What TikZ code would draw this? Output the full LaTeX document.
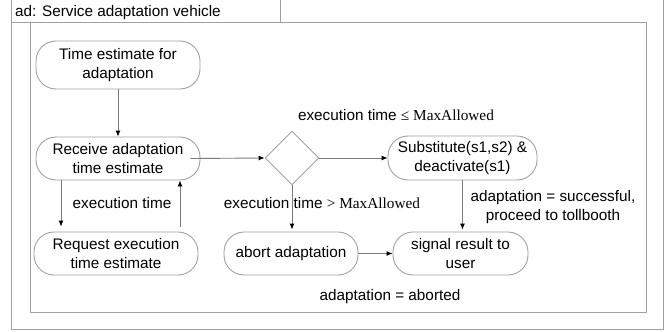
\documentclass[tikz,border=0pt]{standalone}
\usepackage{fontspec}
\setmainfont{Liberation Sans}
\newfontfamily\serifm{Liberation Serif}
\usetikzlibrary{arrows.meta,shapes.geometric}
\definecolor{frameg}{HTML}{A0A0A0}
\definecolor{lineg}{HTML}{7A7A7A}
\tikzset{
  act/.style={draw=frameg, line width=0.9pt, rounded corners=20pt, align=center,
    inner sep=0pt, font=\fontsize{15.3}{18.5}\selectfont},
  lbl/.style={align=center, inner sep=0pt, font=\fontsize{15.3}{18.5}\selectfont},
  conn/.style={draw=lineg, line width=0.9pt, -{Latex[length=6pt,width=5pt,color=black]}},
  frm/.style={draw=frameg, line width=0.9pt}
}
\begin{document}
\begin{tikzpicture}[x=1pt,y=-1pt]
\useasboundingbox (0,0) rectangle (670,332);
% frames
\draw[frm] (11,0) -- (11,329) -- (663,329) -- (663,0);
\draw[frm] (11,22) -- (280,22) -- (280,0);
\draw[frm] (30,22) rectangle (646,312);
\node[lbl, anchor=west] (title) at (15,12.5) {ad: Service adaptation vehicle};
% activities
\node[act, minimum width=164pt, minimum height=48pt] (t1) at (118,65) {Time estimate for\\adaptation};
\node[act, minimum width=164pt, minimum height=43pt] (recv) at (118,158.5) {Receive adaptation\\time estimate};
\node[act, minimum width=164pt, minimum height=43pt] (req) at (116,253.5) {Request execution\\time estimate};
\node[draw=frameg, line width=0.9pt, diamond, minimum width=54pt, minimum height=54pt, inner sep=0pt] (dia) at (292,158) {};
\node[act, minimum width=149pt, minimum height=44pt] (sub) at (462.5,158) {Substitute(s1,s2) \&\\deactivate(s1)};
\node[act, minimum width=134pt, minimum height=43pt] (abort) at (291,253.5) {abort adaptation};
\node[act, minimum width=135pt, minimum height=43pt] (sig) at (460.5,253.5) {signal result to\\user};
% labels
\node[lbl] (l1) at (122,203) {execution time};
\node[lbl] (l2) at (322,203.5) {execution time {\serifm > MaxAllowed}};
\node[lbl] (l3) at (396,115) {execution time {\serifm ≤ MaxAllowed}};
\node[lbl] (l4) at (553,207) {adaptation = successful,\\proceed to tollbooth};
\node[lbl] (l5) at (390,297) {adaptation = aborted};
% connectors
\draw[conn] (t1.south) -- (recv.north);
\draw[conn] ([xshift=-10pt]recv.east) -- (dia.west);
\draw[conn, shorten >=5pt] ([xshift=-57pt]recv.south) -- ([xshift=-57pt]recv.south |- req.north);
\draw[conn, shorten <=5pt] ([xshift=64pt]req.north) -- ([xshift=64pt]req.north |- recv.south);
\draw[conn] (dia.east) -- (sub.west);
\draw[conn, shorten >=2pt] (dia.south) -- (dia.south |- abort.north);
\draw[conn, shorten >=2pt] (sub.south) -- (sub.south |- sig.north);
\draw[conn] (abort.east) -- (sig.west);
\end{tikzpicture}
\end{document}
